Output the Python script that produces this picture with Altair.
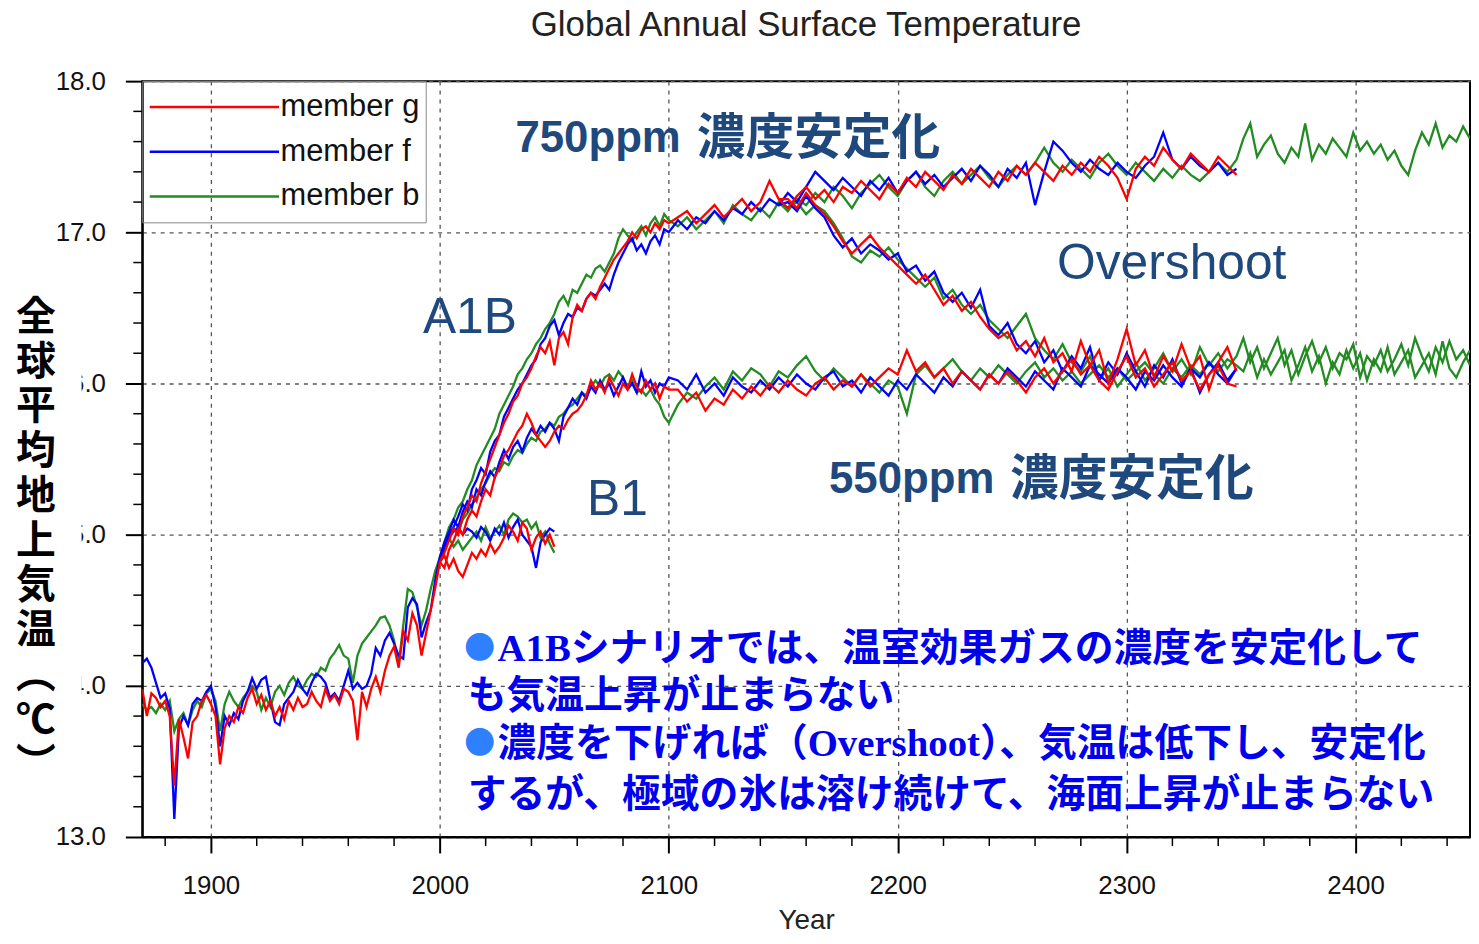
import altair as alt
import pandas as pd

MEMBERS = ["member g", "member f", "member b"]
COLORS = ["#ff0000", "#0000ff", "#228b22"]

# ---- historical 1870-2000 (every 2 years) ----
HIST = {
    "member f": [14.15, 14.18, 14.12, 14.02, 13.92, 13.95, 13.85, 13.12, 13.72, 13.80,
                 13.74, 13.88, 13.92, 13.90, 13.96, 14.00, 13.86, 13.60, 13.80, 13.74,
                 13.82, 13.78, 13.90, 13.96, 14.05, 13.98, 14.04, 14.06, 13.90, 13.76,
                 13.74, 13.88, 13.92, 13.96, 14.04, 13.98, 13.94, 14.02, 14.08, 14.06,
                 14.02, 13.92, 13.95, 13.90, 14.00, 14.10, 13.98, 14.02, 13.98, 14.00,
                 14.08, 14.25, 14.20, 14.30, 14.35, 14.28, 14.20, 14.18, 14.52, 14.58,
                 14.54, 14.32, 14.42, 14.50, 14.70, 14.85],
    "member g": [13.98, 13.80, 13.95, 13.92, 13.86, 13.90, 13.80, 13.34, 13.78, 13.66,
                 13.52, 13.76, 13.80, 13.90, 13.94, 13.88, 13.80, 13.48, 13.72, 13.80,
                 13.76, 13.86, 13.82, 13.92, 13.98, 13.88, 13.94, 13.84, 13.90, 13.80,
                 13.86, 13.78, 13.90, 13.84, 13.92, 13.86, 13.88, 13.96, 13.90, 13.86,
                 13.98, 13.90, 13.94, 13.88, 13.98, 13.96, 13.90, 13.64, 13.96, 13.86,
                 13.98, 14.06, 13.96, 14.10, 14.20, 14.26, 14.12, 14.36, 14.30, 14.48,
                 14.40, 14.20, 14.35, 14.50, 14.65, 14.82],
    "member b": [13.88, 13.84, 13.86, 13.82, 13.88, 13.84, 13.90, 13.70, 13.78, 13.82,
                 13.74, 13.84, 13.90, 13.86, 13.95, 13.98, 13.90, 13.70, 13.88, 13.96,
                 13.90, 13.86, 13.92, 13.96, 14.00, 13.96, 13.84, 13.92, 13.86, 13.96,
                 14.00, 13.94, 14.02, 14.06, 14.00, 13.98, 14.04, 14.08, 14.06, 14.12,
                 14.10, 14.18, 14.22, 14.27, 14.20, 14.18, 14.02, 14.20, 14.28, 14.32,
                 14.36, 14.40, 14.45, 14.46, 14.40, 14.30, 14.14, 14.40, 14.64, 14.62,
                 14.52, 14.40, 14.50, 14.64, 14.76, 14.85],
}

# ---- constant composition 2000-2050 (every 2 years) ----
COMMIT = {
    "member f": [14.85, 14.90, 14.98, 15.02, 15.05, 15.00, 15.04, 15.02, 14.98, 15.05,
                 15.02, 14.96, 15.04, 15.00, 15.08, 14.98, 15.05, 15.10, 15.00, 14.96,
                 14.92, 14.78, 14.95, 15.00, 15.04, 15.02],
    "member g": [14.82, 14.86, 14.78, 14.84, 14.76, 14.72, 14.80, 14.88, 14.84, 14.90,
                 14.86, 14.94, 14.88, 14.92, 14.98, 15.06, 15.02, 14.96, 15.08, 15.04,
                 14.90, 14.98, 15.02, 14.94, 15.00, 14.92],
    "member b": [14.85, 14.92, 14.98, 14.92, 14.96, 14.90, 14.94, 14.98, 15.02, 14.96,
                 15.05, 14.98, 15.02, 15.06, 15.00, 15.10, 15.14, 15.12, 15.08, 15.10,
                 15.04, 15.08, 14.98, 15.02, 14.94, 14.88],
}

# ---- B1 2000-2100 (every 2 years) ----
B1 = {
    "member f": [14.85, 14.95, 15.02, 15.10, 15.05, 15.15, 15.22, 15.18, 15.30, 15.26,
                 15.35, 15.42, 15.38, 15.48, 15.56, 15.50, 15.58, 15.62, 15.55, 15.64,
                 15.70, 15.66, 15.72, 15.68, 15.74, 15.70, 15.62, 15.78, 15.84, 15.90,
                 15.86, 15.94, 15.90, 15.98, 15.94, 16.02, 15.96, 16.00, 15.92, 15.98,
                 16.04, 15.96, 16.00, 15.94, 16.08, 15.98, 16.02, 15.94, 16.00, 15.98,
                 16.04],
    "member g": [14.82, 14.78, 14.90, 14.96, 15.04, 15.00, 15.10, 15.16, 15.12, 15.22,
                 15.30, 15.26, 15.38, 15.44, 15.52, 15.56, 15.62, 15.68, 15.72, 15.80,
                 15.74, 15.66, 15.62, 15.58, 15.62, 15.68, 15.72, 15.70, 15.76, 15.80,
                 15.82, 15.86, 15.92, 16.02, 15.96, 16.00, 15.94, 16.04, 15.98, 15.92,
                 16.00, 15.96, 16.06, 15.98, 15.94, 16.02, 15.96, 16.00, 15.90, 15.98,
                 15.96],
    "member b": [14.85, 14.92, 14.98, 15.04, 15.02, 15.10, 15.14, 15.20, 15.24, 15.30,
                 15.34, 15.40, 15.44, 15.42, 15.48, 15.46, 15.52, 15.56, 15.54, 15.60,
                 15.64, 15.62, 15.68, 15.70, 15.74, 15.72, 15.78, 15.80, 15.84, 15.86,
                 15.90, 15.94, 15.92, 15.98, 16.02, 15.98, 16.04, 16.06, 16.02, 16.08,
                 16.04, 15.98, 16.02, 15.94, 15.96, 15.92, 15.96, 15.90, 15.86, 15.78,
                 15.74],
}

# ---- A1B 2000-2100 (every 2 years) ----
A1B = {
    "member f": [14.85, 14.92, 15.00, 15.05, 15.12, 15.20, 15.16, 15.30, 15.36, 15.44,
                 15.40, 15.55, 15.62, 15.66, 15.78, 15.84, 15.90, 15.96, 16.00, 16.06,
                 16.12, 16.16, 16.26, 16.30, 16.38, 16.42, 16.32, 16.40, 16.46, 16.44,
                 16.50, 16.48, 16.56, 16.60, 16.58, 16.62, 16.66, 16.62, 16.72, 16.80,
                 16.86, 16.92, 16.96, 16.88, 16.92, 16.86, 16.94, 16.98, 16.92, 17.02,
                 17.00],
    "member g": [14.82, 14.88, 14.96, 15.04, 15.00, 15.12, 15.18, 15.26, 15.22, 15.34,
                 15.42, 15.50, 15.58, 15.66, 15.74, 15.80, 15.88, 15.92, 16.00, 16.04,
                 16.10, 16.18, 16.24, 16.20, 16.28, 16.12, 16.30, 16.34, 16.26, 16.44,
                 16.52, 16.48, 16.56, 16.60, 16.56, 16.64, 16.70, 16.76, 16.82, 16.86,
                 16.90, 16.94, 17.00, 16.96, 17.02, 17.04, 17.00, 17.06, 17.02, 17.08,
                 17.06],
    "member b": [14.85, 14.95, 15.05, 15.10, 15.18, 15.22, 15.30, 15.36, 15.46, 15.52,
                 15.58, 15.64, 15.70, 15.80, 15.86, 15.92, 15.98, 16.06, 16.10, 16.16,
                 16.20, 16.26, 16.30, 16.36, 16.40, 16.46, 16.54, 16.58, 16.52, 16.62,
                 16.60, 16.66, 16.72, 16.70, 16.76, 16.78, 16.74, 16.80, 16.86, 16.96,
                 17.02, 16.98, 16.94, 17.00, 17.04, 16.98, 17.06, 17.10, 17.04, 17.12,
                 17.08],
}

# ---- 550 ppm stabilisation 2104-2348 (every 4 years) ----
STAB550 = {
    "member f": [16.02, 15.96, 16.06, 15.94, 16.00, 15.92, 16.04, 15.98, 15.94, 16.02,
                 15.96, 16.04, 15.98, 16.06, 16.00, 15.96, 16.04, 16.08, 15.98, 16.02,
                 15.94, 16.04, 15.98, 15.92, 16.02, 15.96, 16.06, 16.00, 15.94, 16.04,
                 15.98, 16.08, 16.02, 15.96, 16.06, 16.00, 16.10, 16.04, 15.98, 16.08,
                 16.02, 15.96, 16.10, 16.04, 15.98, 16.12, 16.06, 16.00, 16.10, 16.04,
                 15.96, 16.08, 16.02, 16.12, 16.04, 15.98, 16.10, 16.04, 16.14, 16.06,
                 16.00, 16.10],
    "member g": [15.96, 15.88, 15.94, 15.82, 15.90, 15.86, 15.96, 15.90, 15.98, 15.92,
                 16.00, 15.94, 16.02, 15.96, 15.92, 16.00, 16.04, 15.96, 16.02, 15.98,
                 16.06, 15.98, 16.04, 16.10, 16.06, 16.22, 16.08, 16.14, 16.04, 16.10,
                 16.00, 16.08, 16.02, 15.96, 16.06, 16.00, 16.08, 16.02, 15.94, 16.04,
                 16.10, 16.00, 16.08, 16.16, 16.06, 16.12, 16.02, 15.96, 16.08, 16.18,
                 16.04, 16.10, 15.98, 16.06, 16.14, 16.02, 16.08, 15.96, 16.06, 16.12,
                 16.00, 15.98],
    "member b": [15.86, 15.94, 15.90, 15.98, 16.04, 15.96, 16.08, 16.02, 16.10, 16.06,
                 15.98, 16.08, 16.04, 16.12, 16.18, 16.08, 16.02, 16.10, 16.04, 15.98,
                 16.06, 16.00, 15.94, 16.02, 15.98, 15.80, 16.06, 16.12, 16.04, 16.10,
                 16.16, 16.08, 16.02, 16.10, 16.04, 16.12, 16.06, 16.00, 16.08, 16.14,
                 16.04, 16.10, 16.02, 16.08, 16.00, 16.06, 16.12, 16.04, 16.10, 16.02,
                 16.08, 16.14, 16.06, 16.00, 16.10, 16.04, 16.12, 16.06, 16.14, 16.08,
                 16.16, 16.12],
}

# ---- 750 ppm stabilisation 2104-2348 (every 4 years) ----
STAB750 = {
    "member f": [17.08, 17.02, 17.10, 17.06, 17.14, 17.08, 17.16, 17.12, 17.20, 17.14,
                 17.22, 17.18, 17.26, 17.20, 17.30, 17.40, 17.34, 17.28, 17.36, 17.30,
                 17.24, 17.34, 17.28, 17.36, 17.26, 17.34, 17.40, 17.32, 17.38, 17.30,
                 17.36, 17.42, 17.34, 17.44, 17.38, 17.30, 17.42, 17.36, 17.46, 17.18,
                 17.40, 17.60, 17.54, 17.46, 17.40, 17.48, 17.42, 17.38, 17.46, 17.40,
                 17.36, 17.44, 17.50, 17.66, 17.48, 17.42, 17.50, 17.44, 17.40, 17.46,
                 17.38, 17.42],
    "member g": [17.10, 17.14, 17.06, 17.12, 17.18, 17.10, 17.16, 17.22, 17.14, 17.20,
                 17.34, 17.22, 17.16, 17.24, 17.30, 17.22, 17.28, 17.20, 17.30, 17.26,
                 17.34, 17.28, 17.22, 17.32, 17.26, 17.36, 17.30, 17.40, 17.34, 17.28,
                 17.38, 17.32, 17.42, 17.36, 17.30, 17.40, 17.34, 17.44, 17.38, 17.46,
                 17.40, 17.34, 17.44, 17.38, 17.46, 17.40, 17.50, 17.44, 17.36, 17.22,
                 17.42, 17.50, 17.44, 17.56, 17.48, 17.42, 17.52, 17.46, 17.40, 17.50,
                 17.44, 17.38],
    "member b": [17.04, 17.10, 17.02, 17.08, 17.14, 17.06, 17.18, 17.12, 17.08, 17.16,
                 17.10, 17.20, 17.14, 17.22, 17.18, 17.26, 17.20, 17.30, 17.24, 17.16,
                 17.26, 17.32, 17.38, 17.30, 17.24, 17.34, 17.40, 17.30, 17.24, 17.34,
                 17.40, 17.32, 17.38, 17.44, 17.36, 17.30, 17.38, 17.44, 17.38, 17.46,
                 17.56, 17.46, 17.40, 17.48, 17.42, 17.36, 17.46, 17.52, 17.44, 17.38,
                 17.46, 17.40, 17.34, 17.42, 17.36, 17.44, 17.38, 17.34, 17.40, 17.46,
                 17.40, 17.48],
}

# ---- overshoot 2152-2348 (every 4 years), branching from 750 ppm in 2148 ----
OVERSHOOT = {
    "member f": [17.20, 17.14, 17.24, 17.16, 17.10, 16.98, 16.90, 16.96, 16.86, 16.92,
                 16.88, 16.82, 16.86, 16.74, 16.78, 16.68, 16.74, 16.60, 16.54, 16.60,
                 16.50, 16.62, 16.38, 16.32, 16.40, 16.26, 16.20, 16.28, 16.14, 16.22,
                 16.08, 16.18, 16.10, 16.24, 16.02, 16.14, 16.06, 16.20, 16.08, 15.98,
                 16.12, 16.04, 16.16, 16.00, 16.10, 15.94, 16.06, 16.14, 16.02, 16.10],
    "member g": [17.22, 17.16, 17.26, 17.18, 17.12, 17.04, 16.94, 16.86, 16.92, 16.98,
                 16.90, 16.84, 16.78, 16.72, 16.66, 16.72, 16.62, 16.52, 16.58, 16.48,
                 16.54, 16.44, 16.36, 16.30, 16.34, 16.22, 16.28, 16.18, 16.30, 16.14,
                 16.20, 16.08, 16.28, 16.12, 16.22, 16.00, 16.16, 16.36, 16.12, 16.22,
                 16.04, 16.18, 16.08, 16.26, 16.10, 16.18, 15.96, 16.14, 16.24, 16.08],
    "member b": [17.16, 17.20, 17.12, 17.18, 17.14, 17.06, 16.96, 16.84, 16.80, 16.88,
                 16.84, 16.90, 16.82, 16.76, 16.70, 16.64, 16.70, 16.56, 16.62, 16.52,
                 16.46, 16.52, 16.42, 16.36, 16.30, 16.38, 16.46, 16.30, 16.22, 16.16,
                 16.26, 16.14, 16.08, 16.18, 16.02, 16.10, 15.98, 16.06, 16.14, 16.02,
                 16.10, 16.20, 16.08, 16.16, 16.06, 16.24, 16.12, 16.20, 16.10, 16.18],
}

# ---- member b extensions 2351-2450 (every 3 years) ----
EXT750_B = [17.62, 17.72, 17.50, 17.58, 17.64, 17.52, 17.46, 17.56, 17.50, 17.72,
            17.48, 17.58, 17.52, 17.62, 17.56, 17.50, 17.66, 17.54, 17.60, 17.52,
            17.58, 17.48, 17.54, 17.44, 17.38, 17.54, 17.66, 17.58, 17.72, 17.56,
            17.64, 17.60, 17.70, 17.62]
EXTOS_B = [16.30, 16.14, 16.24, 16.10, 16.20, 16.30, 16.12, 16.22, 16.06, 16.18,
           16.28, 16.14, 16.24, 16.10, 16.20, 16.16, 16.26, 16.04, 16.18, 16.12,
           16.22, 16.08, 16.16, 16.26, 16.12, 16.30, 16.18, 16.08, 16.24, 16.14,
           16.28, 16.16, 16.22, 16.12]
EXT550_B = [16.08, 16.20, 16.04, 16.16, 16.06, 16.14, 16.22, 16.02, 16.12, 16.24,
            16.08, 16.18, 16.00, 16.14, 16.06, 16.22, 16.10, 16.20, 16.02, 16.16,
            16.08, 16.24, 16.06, 16.14, 16.22, 16.04, 16.12, 16.20, 16.06, 16.28,
            16.10, 16.04, 16.14, 16.22]

X_TICKS = [1900, 2000, 2100, 2200, 2300, 2400]
Y_TICKS = [13, 14, 15, 16, 17, 18]
X_MINOR = [1880, 1920, 1940, 1960, 1980, 2020, 2040, 2060, 2080, 2120, 2140, 2160,
           2180, 2220, 2240, 2260, 2280, 2320, 2340, 2360, 2380, 2420, 2440]
Y_MINOR = [13.2, 13.4, 13.6, 13.8, 14.2, 14.4, 14.6, 14.8, 15.2, 15.4, 15.6, 15.8,
           16.2, 16.4, 16.6, 16.8, 17.2, 17.4, 17.6, 17.8]

SCEN_TEXT = ["A1B", "B1", "Overshoot"]
SCEN_YEAR = [1992.6, 2064.3, 2269.6]
SCEN_TEMP = [16.43, 15.23, 16.79]

PPM_TEXT = ["750ppm", "550ppm"]
PPM_YEAR = [2033.0, 2170.0]
PPM_TEMP = [17.62, 15.36]
KANJI_TEXT = ["濃度安定化", "濃度安定化"]
KANJI_YEAR = [2112.2, 2249.1]

NOTE_TEXT = ["A1Bシナリオでは、温室効果ガスの濃度を安定化して",
             "も気温上昇が止まらない",
             "濃度を下げれば（Overshoot）、気温は低下し、安定化",
             "するが、極域の氷は溶け続けて、海面上昇が止まらない"]
NOTE_YEAR = [2025.2, 2012.2, 2025.2, 2012.2]
NOTE_TEMP = [14.243, 13.934, 13.618, 13.276]
BULLET_YEAR = [2010.6, 2010.6]
BULLET_TEMP = [14.243, 13.618]

Y_TITLE = "全\n球\n平\n均\n地\n上\n気\n温\n︵\n℃\n︶"


def seg(start, step, vals):
    return [(start + i * step, v) for i, v in enumerate(vals)]


rows = []


def add(member, run, pts):
    for yr, v in pts:
        rows.append({"year": yr, "temp": v, "member": member, "run": member + "-" + run})


for m in MEMBERS:
    add(m, "hist", seg(1870, 2, HIST[m]))
    add(m, "commit", seg(2000, 2, COMMIT[m]))
    b1 = seg(2000, 2, B1[m]) + seg(2104, 4, STAB550[m])
    a1b = seg(2000, 2, A1B[m]) + seg(2104, 4, STAB750[m])
    ovs = [(2148, STAB750[m][11])] + seg(2152, 4, OVERSHOOT[m])
    if m == "member b":
        b1 += seg(2351, 3, EXT550_B)
        a1b += seg(2351, 3, EXT750_B)
        ovs += seg(2351, 3, EXTOS_B)
    add(m, "b1", b1)
    add(m, "a1b", a1b)
    add(m, "os", ovs)

df = pd.DataFrame(rows)

XSCALE = alt.Scale(domain=[1870, 2450], nice=False, zero=False)
YSCALE = alt.Scale(domain=[13, 18], nice=False, zero=False)
XAXIS = alt.Axis(values=X_TICKS, format="d", grid=True, gridDash=[4, 5], gridColor="#555555",
                 gridWidth=1.3, domainColor="black", domainWidth=2, tickColor="black",
                 tickWidth=2, tickSize=16, labelFont="Liberation Sans", labelFontSize=26,
                 labelColor="#111111", labelPadding=20, titleFont="Liberation Sans",
                 titleFontSize=28, titleFontWeight="normal", titleColor="#222222",
                 titlePadding=8, zindex=0)
YAXIS = alt.Axis(values=Y_TICKS, format=".1f", grid=True, gridDash=[4, 5], gridColor="#555555",
                 gridWidth=1.3, domainColor="black", domainWidth=2, tickColor="black",
                 tickWidth=2, tickSize=17, labelFont="Liberation Sans", labelFontSize=26,
                 labelColor="#111111", labelPadding=20, zindex=0)

X = alt.X("year:Q", scale=XSCALE, axis=XAXIS, title="Year")
Y = alt.Y("temp:Q", scale=YSCALE, axis=YAXIS, title=None)

COLOR = alt.Color(
    "member:N",
    scale=alt.Scale(domain=MEMBERS, range=COLORS),
    legend=alt.Legend(orient="none", legendX=0, legendY=0, title=None,
                      symbolType="stroke", symbolSize=16900, symbolStrokeWidth=2.5,
                      clipHeight=40, rowPadding=5, padding=6, labelOffset=0,
                      labelFont="Liberation Sans", labelFontSize=31, labelColor="#111111",
                      labelLimit=300, strokeColor="#888888"),
)

layers = []
for m in ["member b", "member f", "member g"]:
    layers.append(
        alt.Chart(df).transform_filter(alt.datum.member == m)
        .mark_line(strokeWidth=2.3, clip=True)
        .encode(x=X, y=Y, color=COLOR, detail="run:N")
    )

xminor = alt.Chart(pd.DataFrame({"year": X_MINOR})).mark_rule(
    color="black", strokeWidth=1.5, clip=False
).encode(x=X, y=alt.value(760), y2=alt.value(769))

yminor = alt.Chart(pd.DataFrame({"temp": Y_MINOR})).mark_rule(
    color="black", strokeWidth=1.5, clip=False
).encode(y=Y, x=alt.value(-9), x2=alt.value(0))

cover = alt.Chart(pd.DataFrame({"k": [0]})).mark_rect(fill="white", clip=False).encode(
    x=alt.value(-135), x2=alt.value(-61), y=alt.value(211), y2=alt.value(701)
)

ytitle = alt.Chart(pd.DataFrame({"t": [Y_TITLE]})).mark_text(
    lineBreak="\n", lineHeight=45, fontSize=40, fontWeight="bold",
    font="Noto Sans CJK JP", align="center", baseline="top", color="black"
).encode(text="t:N", x=alt.value(-107), y=alt.value(218))

DARK = "#1f497d"
scen = alt.Chart(pd.DataFrame({"year": SCEN_YEAR, "temp": SCEN_TEMP, "text": SCEN_TEXT})).mark_text(
    align="left", baseline="middle", font="Liberation Sans", fontSize=50, color=DARK
).encode(x=X, y=Y, text="text:N")

ppm = alt.Chart(pd.DataFrame({"year": PPM_YEAR, "temp": PPM_TEMP, "text": PPM_TEXT})).mark_text(
    align="left", baseline="middle", font="Liberation Sans", fontSize=44,
    fontWeight="bold", color=DARK
).encode(x=X, y=Y, text="text:N")

kanji = alt.Chart(pd.DataFrame({"year": KANJI_YEAR, "temp": PPM_TEMP, "text": KANJI_TEXT})).mark_text(
    align="left", baseline="middle", font="Noto Sans CJK JP", fontSize=49,
    fontWeight="bold", color=DARK
).encode(x=X, y=Y, text="text:N")

notes = alt.Chart(pd.DataFrame({"year": NOTE_YEAR, "temp": NOTE_TEMP, "text": NOTE_TEXT})).mark_text(
    align="left", baseline="middle", font="Liberation Serif, Noto Sans CJK JP", fontSize=39,
    fontWeight="bold", color="#0000ee"
).encode(x=X, y=Y, text="text:N")

bullets = alt.Chart(pd.DataFrame({"year": BULLET_YEAR, "temp": BULLET_TEMP, "text": ["●", "●"]})).mark_text(
    align="left", baseline="middle", font="Noto Sans CJK JP", fontSize=31,
    color="#2f80ff"
).encode(x=X, y=Y, text="text:N")

chart = alt.layer(
    *layers, xminor, yminor, cover, ytitle, scen, ppm, kanji, notes, bullets
).properties(
    width=1335,
    height=760,
    autosize=alt.AutoSizeParams(type="none"),
    padding={"left": 135, "top": 71, "right": 1, "bottom": 97},
    title=alt.TitleParams(
        text="Global Annual Surface Temperature", fontSize=35, font="Liberation Sans",
        fontWeight="normal", color="#222222", anchor="middle", frame="group", offset=25
    ),
).configure_view(stroke="black", strokeWidth=2)

chart.save("out.html", embed_options={"renderer": "svg", "actions": False})
